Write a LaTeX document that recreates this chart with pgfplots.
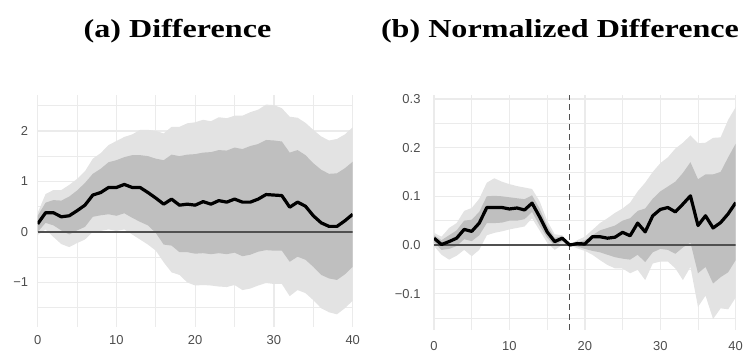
\documentclass[border=0pt]{standalone}
\usepackage{pgfplots}
\pgfplotsset{compat=1.18}
\usepackage{pgfplotstable}
\usepackage{fontspec}
\setmainfont{Liberation Sans}
\newfontfamily\titlefont[FakeStretch=1.24]{Liberation Serif}
\definecolor{lightband}{HTML}{E3E3E3}
\definecolor{darkband}{HTML}{BFBFBF}
\definecolor{gridc}{HTML}{EBEBEB}
\definecolor{ticktext}{HTML}{4D4D4D}
\definecolor{zeroc}{HTML}{505050}

\pgfplotstableread{
x m
0 0.16
1 0.38
2 0.38
3 0.30
4 0.32
5 0.42
6 0.53
7 0.73
8 0.78
9 0.88
10 0.88
11 0.94
12 0.88
13 0.88
14 0.78
15 0.67
16 0.55
17 0.65
18 0.53
19 0.55
20 0.53
21 0.60
22 0.55
23 0.62
24 0.59
25 0.65
26 0.59
27 0.59
28 0.65
29 0.74
30 0.73
31 0.72
32 0.49
33 0.59
34 0.51
35 0.32
36 0.18
37 0.11
38 0.11
39 0.22
40 0.35
}\diffdata

\pgfplotstableread{
x m
0 0.014
1 0.001
2 0.007
3 0.014
4 0.032
5 0.028
6 0.045
7 0.077
8 0.077
9 0.077
10 0.074
11 0.076
12 0.072
13 0.086
14 0.058
15 0.027
16 0.007
17 0.014
18 0.000
19 0.003
20 0.002
21 0.017
22 0.017
23 0.014
24 0.016
25 0.026
26 0.019
27 0.045
28 0.027
29 0.060
30 0.073
31 0.077
32 0.068
33 0.084
34 0.101
35 0.040
36 0.060
37 0.035
38 0.046
39 0.064
40 0.087
}\normdata

\pgfplotsset{
  panel/.style={
    scale only axis,
    axis line style={draw=none},
    major tick length=0pt,
    minor tick length=0pt,
    grid=both,
    major grid style={gridc, line width=1.3bp},
    minor grid style={gridc, line width=0.7bp},
    xmin=0, xmax=40,
    xtick={0,10,20,30,40},
    minor xtick={5,15,25,35},
    xticklabels={0,10,20,30,40},
    tick label style={font=\fontsize{13}{13}\selectfont, text=ticktext},
  }
}

\begin{document}
\begin{tikzpicture}
\path[use as bounding box] (0,0) rectangle (745bp,352bp);

\node[anchor=base, font=\titlefont\bfseries\fontsize{26}{26}\selectfont] at (177.5bp,314.5bp) {(a) Difference};
\node[anchor=base, font=\titlefont\bfseries\fontsize{26}{26}\selectfont] at (560bp,314.5bp) {(b) Normalized Difference};

\begin{axis}[panel,
  at={(37.7bp,25.3bp)}, anchor=south west,
  width=315bp, height=231.7bp,
  ymin=-1.875, ymax=2.71,
  ytick={-1,0,1,2},
  minor ytick={-1.5,-0.5,0.5,1.5,2.5},
  yticklabels={−1,0,1,2},
  xticklabel style={yshift=-5bp},
  yticklabel style={xshift=-6bp},
]
% light band (upper forward, lower backward)
\addplot[fill=lightband, draw=none] coordinates {
(0,0.38)(1,0.75)(2,0.83)(3,0.83)(4,0.93)(5,1.05)(6,1.20)(7,1.45)(8,1.56)(9,1.72)(10,1.80)(11,1.88)(12,1.93)(13,2.02)(14,2.02)(15,2.00)(16,1.95)(17,2.08)(18,2.08)(19,2.15)(20,2.17)(21,2.22)(22,2.19)(23,2.27)(24,2.25)(25,2.30)(26,2.30)(27,2.37)(28,2.42)(29,2.52)(30,2.51)(31,2.45)(32,2.28)(33,2.26)(34,2.16)(35,2.02)(36,1.89)(37,1.81)(38,1.84)(39,1.93)(40,2.07)
(40,-1.36)(39,-1.51)(38,-1.63)(37,-1.59)(36,-1.51)(35,-1.35)(34,-1.21)(33,-1.15)(32,-1.27)(31,-1.03)(30,-1.03)(29,-1.01)(28,-1.06)(27,-1.12)(26,-1.15)(25,-1.05)(24,-1.09)(23,-1.08)(22,-1.06)(21,-1.05)(20,-1.06)(19,-1.00)(18,-0.85)(17,-0.80)(16,-0.60)(15,-0.37)(14,-0.25)(13,-0.15)(12,-0.05)(11,0.05)(10,0.02)(9,0.05)(8,0.02)(7,0.00)(6,-0.15)(5,-0.22)(4,-0.30)(3,-0.24)(2,-0.10)(1,0.05)(0,-0.06)
} -- cycle;
% dark band
\addplot[fill=darkband, draw=none] coordinates {
(0,0.32)(1,0.58)(2,0.63)(3,0.62)(4,0.70)(5,0.82)(6,0.97)(7,1.15)(8,1.25)(9,1.38)(10,1.42)(11,1.48)(12,1.52)(13,1.52)(14,1.50)(15,1.45)(16,1.42)(17,1.53)(18,1.50)(19,1.53)(20,1.54)(21,1.57)(22,1.58)(23,1.62)(24,1.61)(25,1.67)(26,1.64)(27,1.70)(28,1.74)(29,1.82)(30,1.81)(31,1.79)(32,1.57)(33,1.62)(34,1.52)(35,1.36)(36,1.23)(37,1.15)(38,1.16)(39,1.26)(40,1.39)
(40,-0.69)(39,-0.84)(38,-0.95)(37,-0.92)(36,-0.85)(35,-0.69)(34,-0.55)(33,-0.49)(32,-0.59)(31,-0.37)(30,-0.37)(29,-0.36)(28,-0.39)(27,-0.45)(26,-0.48)(25,-0.41)(24,-0.44)(23,-0.42)(22,-0.44)(21,-0.42)(20,-0.43)(19,-0.40)(18,-0.40)(17,-0.27)(16,-0.25)(15,-0.02)(14,0.13)(13,0.20)(12,0.28)(11,0.37)(10,0.32)(9,0.35)(8,0.33)(7,0.30)(6,0.10)(5,0.03)(4,-0.05)(3,0.03)(2,0.13)(1,0.18)(0,0.00)
} -- cycle;
\addplot[zeroc, line width=1.2bp] coordinates {(0,0) (40,0)};
\addplot[black, line width=3.2bp, line join=round] table[x=x, y=m] {\diffdata};
\end{axis}

\begin{axis}[panel,
  at={(434bp,22bp)}, anchor=south west,
  width=301.7bp, height=235bp,
  ymin=-0.1745, ymax=0.308,
  ytick={-0.1,0,0.1,0.2,0.3},
  minor ytick={-0.15,-0.05,0.05,0.15,0.25},
  yticklabels={−0.1,0.0,0.1,0.2,0.3},
  xticklabel style={yshift=-8bp},
  yticklabel style={xshift=-10bp},
]
\addplot[fill=lightband, draw=none] coordinates {
(0,0.025)(1,0.017)(2,0.035)(3,0.045)(4,0.070)(5,0.076)(6,0.095)(7,0.128)(8,0.137)(9,0.130)(10,0.125)(11,0.121)(12,0.118)(13,0.115)(14,0.090)(15,0.050)(16,0.022)(17,0.020)(18,0.000)(19,0.010)(20,0.017)(21,0.031)(22,0.045)(23,0.055)(24,0.066)(25,0.075)(26,0.087)(27,0.110)(28,0.128)(29,0.150)(30,0.168)(31,0.180)(32,0.198)(33,0.210)(34,0.225)(35,0.209)(36,0.210)(37,0.220)(38,0.221)(39,0.257)(40,0.283)
(40,-0.108)(39,-0.132)(38,-0.130)(37,-0.152)(36,-0.104)(35,-0.127)(34,-0.045)(33,-0.072)(32,-0.048)(31,-0.034)(30,-0.034)(29,-0.038)(28,-0.072)(27,-0.051)(26,-0.058)(25,-0.048)(24,-0.048)(23,-0.041)(22,-0.031)(21,-0.020)(20,-0.012)(19,-0.007)(18,0.000)(17,0.000)(16,-0.010)(15,0.005)(14,0.030)(13,0.055)(12,0.038)(11,0.035)(10,0.032)(9,0.028)(8,0.025)(7,0.020)(6,-0.010)(5,-0.023)(4,-0.010)(3,-0.022)(2,-0.030)(1,-0.020)(0,-0.002)
} -- cycle;
\addplot[fill=darkband, draw=none] coordinates {
(0,0.020)(1,0.010)(2,0.020)(3,0.030)(4,0.050)(5,0.052)(6,0.068)(7,0.100)(8,0.101)(9,0.100)(10,0.098)(11,0.096)(12,0.094)(13,0.102)(14,0.075)(15,0.040)(16,0.015)(17,0.018)(18,0.000)(19,0.005)(20,0.010)(21,0.020)(22,0.030)(23,0.035)(24,0.040)(25,0.050)(26,0.055)(27,0.070)(28,0.075)(29,0.095)(30,0.110)(31,0.120)(32,0.130)(33,0.148)(34,0.170)(35,0.135)(36,0.145)(37,0.145)(38,0.150)(39,0.180)(40,0.208)
(40,-0.031)(39,-0.056)(38,-0.066)(37,-0.079)(36,-0.045)(35,-0.058)(34,0.005)(33,-0.005)(32,-0.018)(31,-0.010)(30,-0.008)(29,-0.015)(28,-0.035)(27,-0.020)(26,-0.030)(25,-0.028)(24,-0.025)(23,-0.020)(22,-0.015)(21,-0.012)(20,-0.008)(19,-0.003)(18,0.000)(17,0.008)(16,-0.002)(15,0.015)(14,0.040)(13,0.068)(12,0.053)(11,0.050)(10,0.050)(9,0.046)(8,0.045)(7,0.045)(6,0.020)(5,0.008)(4,0.012)(3,-0.002)(2,-0.008)(1,-0.010)(0,0.006)
} -- cycle;
\addplot[zeroc, line width=1.2bp] coordinates {(0,0) (40,0)};
\addplot[zeroc, line width=1.2bp, dash pattern=on 6bp off 4bp] coordinates {(18,-0.1745) (18,0.308)};
\addplot[black, line width=3.2bp, line join=round] table[x=x, y=m] {\normdata};
\end{axis}
\end{tikzpicture}
\end{document}
